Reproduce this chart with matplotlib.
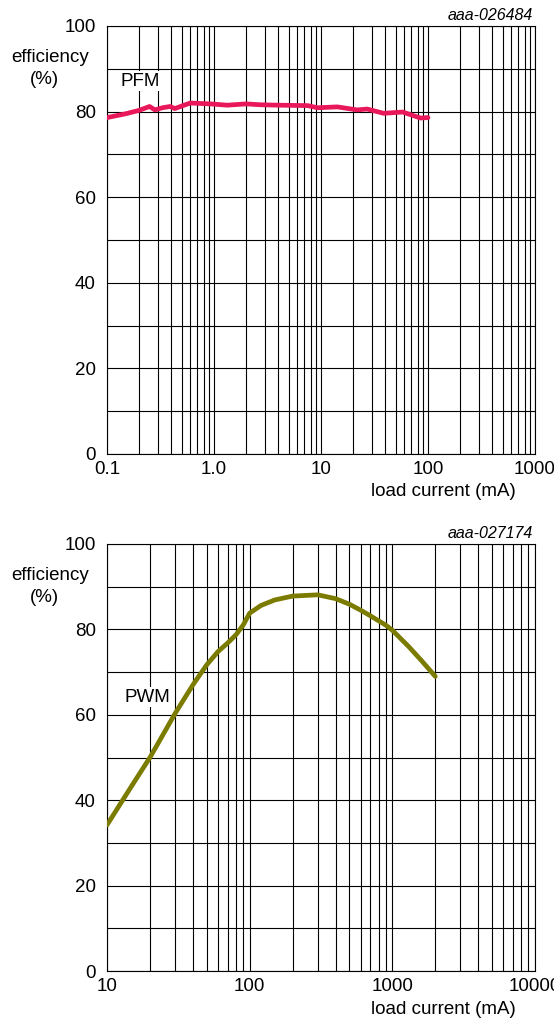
import numpy as np
import matplotlib
matplotlib.use('Agg')
import matplotlib.pyplot as plt
from matplotlib.ticker import LogLocator, FixedLocator, NullFormatter

plt.rcParams['font.family'] = ['Liberation Sans', 'DejaVu Sans']

# PFM curve (top panel)
pfm_current = [0.1, 0.15, 0.2, 0.25, 0.28, 0.33, 0.39, 0.43, 0.5, 0.6, 0.92, 1.33,
               2.0, 2.7, 4.0, 7.5, 9.3, 14.2, 21.8, 27, 38.5, 58, 85, 100]
pfm_eff = [78.6, 79.5, 80.3, 81.2, 80.4, 80.9, 81.2, 80.7, 81.3, 82.0, 81.8, 81.5,
           81.8, 81.6, 81.5, 81.4, 80.9, 81.1, 80.4, 80.6, 79.6, 79.9, 78.5, 78.6]

# PWM curve (bottom panel)
pwm_current = [10, 15, 20, 30, 40, 50, 60, 70, 80, 90, 100, 120, 150, 200, 300, 400,
               500, 600, 700, 900, 1000, 1300, 1600, 2000]
pwm_eff = [34.2, 43.5, 50.0, 60.3, 67.0, 71.7, 74.8, 76.8, 78.7, 81.0, 83.8, 85.6, 86.9,
           87.8, 88.1, 87.2, 85.9, 84.5, 83.2, 81.0, 79.8, 76.0, 72.7, 69.0]

top_ticks = [0.1, 1, 10, 100, 1000]
top_labels = ['0.1', '1.0', '10', '100', '1000']
bot_ticks = [10, 100, 1000, 10000]
bot_labels = ['10', '100', '1000', '10000']
y_ticks = [0, 20, 40, 60, 80, 100]

W, H = 554, 1023
FS = 13.5
fig = plt.figure(figsize=(W / 100, H / 100), dpi=100)


def make_axes(top_px, bottom_px, x_ticks, x_labels, code, x, y, color, mode, mode_xy):
    ax = fig.add_axes([107 / W, (H - bottom_px) / H, (535 - 107) / W, (bottom_px - top_px) / H])
    ax.set_xscale('log')
    ax.set_xlim(x_ticks[0], x_ticks[-1])
    ax.set_ylim(0, 100)
    ax.xaxis.set_major_locator(FixedLocator(x_ticks))
    ax.set_xticklabels(x_labels)
    ax.xaxis.set_minor_locator(LogLocator(base=10, subs=np.arange(2, 10), numticks=20))
    ax.xaxis.set_minor_formatter(NullFormatter())
    ax.yaxis.set_major_locator(FixedLocator(y_ticks))
    ax.yaxis.set_minor_locator(FixedLocator(np.arange(10, 100, 20)))
    ax.grid(True, which='both', color='black', linewidth=0.8)
    ax.tick_params(which='both', length=0, labelsize=FS)
    ax.tick_params(axis='x', pad=5)
    ax.tick_params(axis='y', pad=8)
    for s in ax.spines.values():
        s.set_linewidth(0.8)
    ax.plot(x, y, color=color, linewidth=3.4, solid_capstyle='round',
            solid_joinstyle='round', zorder=3)

    fig.text(50 / W, 1 - (top_px + 32) / H, 'efficiency', ha='center', va='center', fontsize=FS)
    fig.text(44.5 / W, 1 - (top_px + 54) / H, '(%)', ha='center', va='center', fontsize=FS)
    fig.text(533 / W, 1 - (top_px - 11) / H, code, ha='right', va='center', fontsize=11.5, style='italic')
    fig.text(516 / W, 1 - (bottom_px + 38) / H, 'load current (mA)', ha='right', va='center', fontsize=FS)
    fig.text(mode_xy[0] / W, 1 - mode_xy[1] / H, mode, ha='left', va='center', fontsize=FS,
             bbox=dict(facecolor='white', edgecolor='none', pad=1))
    return ax


make_axes(26, 454, top_ticks, top_labels, 'aaa-026484', pfm_current, pfm_eff,
          '#e8185a', 'PFM', (121, 81))
make_axes(544, 971, bot_ticks, bot_labels, 'aaa-027174', pwm_current, pwm_eff,
          '#7b7b00', 'PWM', (124, 697))

plt.savefig('out.png', dpi=100)
